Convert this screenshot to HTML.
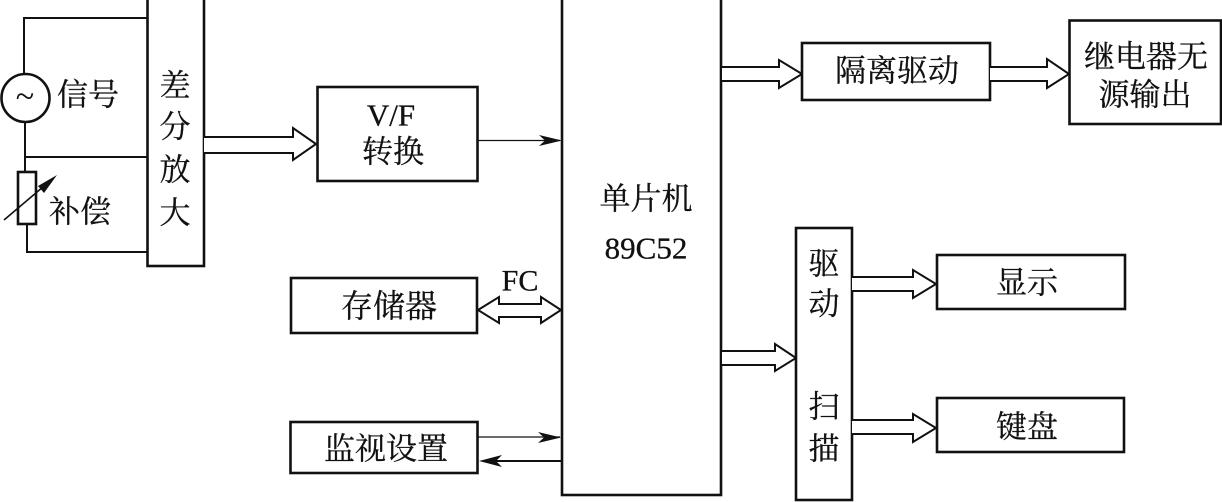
<!DOCTYPE html>
<html>
<head>
<meta charset="utf-8">
<style>
html,body{margin:0;padding:0;background:#fff;width:1222px;height:502px;overflow:hidden}
svg{display:block}
text{font-family:"Liberation Serif","Noto Serif CJK SC",serif;fill:#111;stroke:#111;stroke-width:.3;text-anchor:middle;dominant-baseline:central;font-size:31px}
.b{fill:#fff;stroke:#111;stroke-width:2.6}
.l{fill:none;stroke:#111;stroke-width:2}
.a{fill:#fff;stroke:#111;stroke-width:2}
.t{fill:none;stroke:#111;stroke-width:1.2}
.h{fill:#111;stroke:none}
</style>
</head>
<body>
<svg width="1222" height="502" viewBox="0 0 1222 502" xmlns="http://www.w3.org/2000/svg">
<!-- input wiring -->
<path class="l" d="M147 18H24V74"/>
<path class="l" d="M25 122V172"/>
<path class="l" d="M25 157H147"/>
<path class="l" d="M27 224V252H147"/>
<circle class="b" cx="25.500" cy="98" r="24"/>
<text x="25" y="97" style="font-size:34px;stroke-width:0">~</text>
<rect class="b" x="18" y="172" width="18" height="52"/>
<path class="t" d="M4 220L50 181" style="stroke-width:1.6"/>
<path class="h" d="M57 175L38 186L44 193Z"/>
<text x="88" y="95">信号</text>
<text x="80" y="212">补偿</text>

<!-- amplifier -->
<rect class="b" x="147.500" y="-5" width="56.500" height="271"/>
<text x="175" y="86">差</text>
<text x="175" y="127">分</text>
<text x="175" y="170">放</text>
<text x="175" y="213">大</text>

<path class="a" d="M204 137H293V128L316 144L293 160V153H204"/>

<!-- V/F -->
<rect class="b" x="317.500" y="87" width="160" height="94"/>
<text x="391" y="115">V/F</text>
<text x="393" y="152">转换</text>
<path class="t" d="M477 140.500H560"/>
<path class="h" d="M562 140.500L539 135L545 140.500L539 146Z"/>

<!-- MCU -->
<rect class="b" x="562" y="-5" width="159" height="500"/>
<text x="646" y="199">单片机</text>
<text x="646" y="248">89C52</text>

<!-- memory -->
<rect class="b" x="291" y="278" width="186" height="55"/>
<text x="389" y="306" style="font-size:32px">存储器</text>
<text x="520" y="281" style="font-size:30px">FC</text>
<path class="a" d="M478 310L499 297V304H541V297L561 310L541 323V317H499V323Z"/>

<!-- monitor -->
<rect class="b" x="290.500" y="422" width="187" height="51"/>
<text x="386" y="449">监视设置</text>
<path class="t" d="M477 437H560"/>
<path class="h" d="M561 437.500L538 432L544 437.500L538 443Z"/>
<path class="l" d="M562 461H484"/>
<path class="h" d="M479 461L502 455L496 461L502 467Z"/>

<!-- isolation drive -->
<path class="a" d="M722 67H779V60L802 74L779 88V81H722"/>
<rect class="b" x="802" y="43" width="188" height="57"/>
<text x="897" y="71">隔离驱动</text>
<path class="a" d="M990 67H1047V59L1069 74L1047 88V81H990"/>
<rect class="b" x="1069.500" y="20.500" width="151.500" height="103.500"/>
<text x="1146" y="57">继电器无</text>
<text x="1145" y="95">源输出</text>

<!-- drive/scan -->
<path class="a" d="M722 351H775V344L796 358L775 371V365H722"/>
<rect class="b" x="796" y="228" width="56" height="272"/>
<text x="824" y="264">驱</text>
<text x="824" y="304">动</text>
<text x="824" y="407">扫</text>
<text x="824" y="449">描</text>

<path class="a" d="M852 277H913V270L936 284L913 298V291H852"/>
<rect class="b" x="937" y="255" width="188" height="54"/>
<text x="1027" y="283">显示</text>

<path class="a" d="M852 420H913V414L936 428L913 442V434H852"/>
<rect class="b" x="937" y="398" width="187" height="54"/>
<text x="1027" y="427">键盘</text>
</svg>
</body>
</html>
